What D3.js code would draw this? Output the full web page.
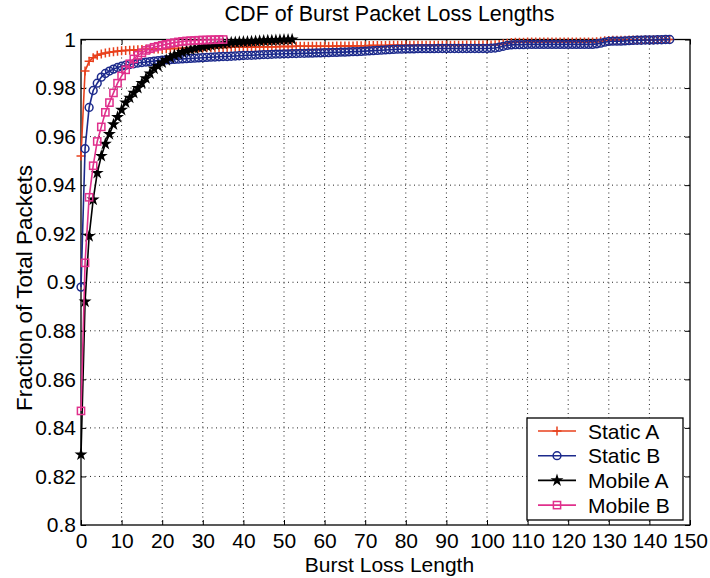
<!DOCTYPE html>
<html>
<head>
<meta charset="utf-8">
<script src="https://cdn.jsdelivr.net/npm/d3@7"></script>
<style>
  body { margin: 0; background: #fff; }
  svg { font-family: "Liberation Sans", Arial, Helvetica, sans-serif; }
</style>
</head>
<body>
<svg id="chart"></svg>
<script>
// CDF values, index = burst loss length (0, 1, 2, ...)
const staticA = [
  0.952, 0.987, 0.991, 0.9925, 0.9935, 0.994, 0.9944, 0.9947, 0.995, 0.9952,
  0.9954, 0.9955, 0.9956, 0.9957, 0.9958, 0.9959, 0.996, 0.996, 0.9961, 0.9961,
  0.9962, 0.9962, 0.9963, 0.9963, 0.9963, 0.9964, 0.9964, 0.9964, 0.9965, 0.9965,
  0.9965, 0.9966, 0.9966, 0.9966, 0.9967, 0.9967, 0.9967, 0.9968, 0.9968, 0.9968,
  0.9968, 0.9968, 0.9969, 0.9969, 0.9969, 0.997, 0.997, 0.997, 0.997, 0.9971,
  0.9971, 0.9971, 0.9971, 0.9972, 0.9972, 0.9972, 0.9972, 0.9972, 0.9972, 0.9972,
  0.9972, 0.9972, 0.9972, 0.9973, 0.9973, 0.9973, 0.9973, 0.9973, 0.9974, 0.9974,
  0.9974, 0.9975, 0.9975, 0.9975, 0.9975, 0.9975, 0.9976, 0.9976, 0.9976, 0.9976,
  0.9976, 0.9976, 0.9976, 0.9976, 0.9976, 0.9976, 0.9976, 0.9976, 0.9976, 0.9976,
  0.9976, 0.9976, 0.9976, 0.9976, 0.9976, 0.9977, 0.9977, 0.9977, 0.9977, 0.9977,
  0.9977, 0.9977, 0.9978, 0.9979, 0.9982, 0.9985, 0.9988, 0.9989, 0.9989, 0.9989,
  0.999, 0.999, 0.999, 0.999, 0.999, 0.999, 0.999, 0.999, 0.999, 0.999,
  0.999, 0.999, 0.999, 0.999, 0.999, 0.999, 0.999, 0.9991, 0.9993, 0.9995,
  0.9996, 0.9997, 0.9997, 0.9997, 0.9997, 0.9998, 0.9998, 0.9998, 0.9998, 0.9999,
  0.9999, 0.9999, 0.9999, 1, 1, 1
];
const staticB = [
  0.898, 0.955, 0.972, 0.979, 0.982, 0.9845, 0.986, 0.987, 0.9878, 0.9885,
  0.989, 0.9894, 0.9897, 0.99, 0.9903, 0.9905, 0.9907, 0.9909, 0.9911, 0.9913,
  0.9915, 0.9916, 0.9917, 0.9918, 0.9919, 0.992, 0.9921, 0.9922, 0.9923, 0.9924,
  0.9925, 0.9926, 0.9927, 0.9928, 0.9929, 0.993, 0.993, 0.9931, 0.9932, 0.9933,
  0.9934, 0.9935, 0.9935, 0.9936, 0.9937, 0.9938, 0.9938, 0.9939, 0.994, 0.994,
  0.9941, 0.9941, 0.9942, 0.9942, 0.9943, 0.9943, 0.9944, 0.9944, 0.9945, 0.9945,
  0.9946, 0.9946, 0.9947, 0.9947, 0.9948, 0.9948, 0.9949, 0.995, 0.995, 0.9951,
  0.9952, 0.9953, 0.9954, 0.9955, 0.9956, 0.9957, 0.9958, 0.9959, 0.996, 0.996,
  0.9961, 0.9961, 0.9961, 0.9962, 0.9962, 0.9962, 0.9962, 0.9962, 0.9963, 0.9963,
  0.9963, 0.9963, 0.9963, 0.9963, 0.9963, 0.9963, 0.9963, 0.9963, 0.9963, 0.9963,
  0.9963, 0.9964, 0.9965, 0.9968, 0.9972, 0.9976, 0.9978, 0.9979, 0.9979, 0.9979,
  0.998, 0.998, 0.998, 0.998, 0.998, 0.998, 0.998, 0.998, 0.998, 0.998,
  0.998, 0.998, 0.998, 0.998, 0.998, 0.998, 0.998, 0.9982, 0.9985, 0.9989,
  0.9992, 0.9993, 0.9993, 0.9993, 0.9994, 0.9995, 0.9996, 0.9997, 0.9997, 0.9998,
  0.9998, 0.9998, 0.9999, 0.9999, 1, 1
];
const mobileA = [
  0.829, 0.892, 0.919, 0.934, 0.945, 0.952, 0.957, 0.961, 0.965, 0.968,
  0.971, 0.974, 0.976, 0.978, 0.980, 0.982, 0.984, 0.986, 0.988, 0.989,
  0.9905, 0.9915, 0.9925, 0.9935, 0.994, 0.9948, 0.9953, 0.9958, 0.9962, 0.9966,
  0.997, 0.9973, 0.9976, 0.9979, 0.9981, 0.9983, 0.9985, 0.9987, 0.9988, 0.9989,
  0.999, 0.9991, 0.9992, 0.9993, 0.9994, 0.9995, 0.9996, 0.9996, 0.9997, 0.9998,
  0.9999, 0.9999, 1
];
const mobileB = [
  0.847, 0.908, 0.935, 0.948, 0.958, 0.964, 0.970, 0.974, 0.978, 0.982,
  0.985, 0.9875, 0.990, 0.992, 0.9935, 0.9945, 0.9955, 0.9962, 0.9968, 0.9972,
  0.9976, 0.998, 0.9984, 0.9987, 0.999, 0.9992, 0.9994, 0.9995, 0.9996, 0.9997,
  0.9998, 0.9998, 0.9999, 0.9999, 1, 1
];

const seriesNames = ["Static A", "Static B", "Mobile A", "Mobile B"];
const seriesColors = ["#e8401c", "#1c2a8c", "#000000", "#e0308c"];
const seriesMarkers = ["plus", "circle", "star", "square"];
const xTicks = [0, 10, 20, 30, 40, 50, 60, 70, 80, 90, 100, 110, 120, 130, 140, 150];
const yTicks = [0.8, 0.82, 0.84, 0.86, 0.88, 0.9, 0.92, 0.94, 0.96, 0.98, 1];

const width = 710, height = 578;
const mLeft = 81, mRight = 690, mTop = 39.5, mBottom = 525;

const svg = d3.select("#chart").attr("width", width).attr("height", height);

const x = d3.scaleLinear().domain([0, 150]).range([mLeft, mRight]);
const y = d3.scaleLinear().domain([0.8, 1]).range([mBottom, mTop]);

// dotted grid
const grid = svg.append("g");
grid.selectAll(".gx").data(xTicks.slice(1, -1)).join("line")
  .attr("class", "gx")
  .attr("x1", d => x(d)).attr("x2", d => x(d))
  .attr("y1", mTop).attr("y2", mBottom);
grid.selectAll(".gy").data(yTicks.slice(1, -1)).join("line")
  .attr("class", "gy")
  .attr("x1", mLeft).attr("x2", mRight)
  .attr("y1", d => y(d)).attr("y2", d => y(d));
grid.selectAll("line")
  .attr("stroke", "#222")
  .attr("stroke-width", 1)
  .attr("stroke-dasharray", "1,3.5");

// axes (ticks pointing inward)
const fmt = d => String(+d.toFixed(2));
svg.append("g").attr("transform", `translate(0,${mBottom})`)
  .call(d3.axisBottom(x).tickValues(xTicks).tickSize(-5).tickPadding(8))
  .call(g => g.select(".domain").remove());
svg.append("g").attr("transform", `translate(0,${mTop})`)
  .call(d3.axisTop(x).tickValues(xTicks).tickSize(-5).tickFormat(""))
  .call(g => g.select(".domain").remove());
svg.append("g").attr("transform", `translate(${mLeft},0)`)
  .call(d3.axisLeft(y).tickValues(yTicks).tickSize(-5).tickPadding(5).tickFormat(fmt))
  .call(g => g.select(".domain").remove());
svg.append("g").attr("transform", `translate(${mRight},0)`)
  .call(d3.axisRight(y).tickValues(yTicks).tickSize(-5).tickFormat(""))
  .call(g => g.select(".domain").remove());
svg.selectAll(".tick line").attr("stroke", "#000");
svg.selectAll(".tick text").attr("fill", "#000").style("font-size", "21px")
  .style("font-family", "\"Liberation Sans\", Arial, sans-serif");

svg.append("rect")
  .attr("x", mLeft).attr("y", mTop)
  .attr("width", mRight - mLeft).attr("height", mBottom - mTop)
  .attr("fill", "none").attr("stroke", "#000").attr("stroke-width", 1.3);

// markers
function drawMarker(g, type, color) {
  if (type === "plus") {
    g.append("path").attr("d", "M-4.5,0H4.5M0,-4.5V4.5")
      .attr("stroke", color).attr("stroke-width", 1.5).attr("fill", "none");
  } else if (type === "circle") {
    g.append("circle").attr("r", 3.9)
      .attr("stroke", color).attr("stroke-width", 1.5).attr("fill", "none");
  } else if (type === "star") {
    g.append("path").attr("d", d3.symbol(d3.symbolStar, 52)())
      .attr("fill", color);
  } else {
    g.append("rect").attr("x", -3.6).attr("y", -3.6).attr("width", 7.2).attr("height", 7.2)
      .attr("stroke", color).attr("stroke-width", 1.5).attr("fill", "none");
  }
}

const allSeries = [staticA, staticB, mobileA, mobileB];
const line = d3.line().x((d, i) => x(i)).y(d => y(d));

allSeries.forEach((vals, k) => {
  const g = svg.append("g");
  g.append("path").attr("d", line(vals))
    .attr("fill", "none").attr("stroke", seriesColors[k]).attr("stroke-width", 1.6);
  g.selectAll("g.m").data(vals).join("g")
    .attr("class", "m")
    .attr("transform", (d, i) => `translate(${x(i)},${y(d)})`)
    .each(function () { drawMarker(d3.select(this), seriesMarkers[k], seriesColors[k]); });
});

// legend
const lg = svg.append("g");
lg.append("rect").attr("x", 527).attr("y", 418).attr("width", 156).attr("height", 102)
  .attr("fill", "#fff").attr("stroke", "#000").attr("stroke-width", 1.3);
seriesNames.forEach((name, k) => {
  const ly = 431 + k * 24.7;
  lg.append("line").attr("x1", 538).attr("x2", 576).attr("y1", ly).attr("y2", ly)
    .attr("stroke", seriesColors[k]).attr("stroke-width", 1.6);
  const mg = lg.append("g").attr("transform", `translate(557,${ly})`);
  drawMarker(mg, seriesMarkers[k], seriesColors[k]);
  lg.append("text").attr("x", 588).attr("y", ly).attr("dy", "0.36em")
    .style("font-size", "21px").text(name);
});

// titles
svg.append("text").attr("x", (mLeft + mRight) / 2 + 4).attr("y", 21)
  .attr("text-anchor", "middle").style("font-size", "21.5px")
  .text("CDF of Burst Packet Loss Lengths");
svg.append("text").attr("x", (mLeft + mRight) / 2 + 4).attr("y", 572)
  .attr("text-anchor", "middle").style("font-size", "21px")
  .text("Burst Loss Length");
svg.append("text")
  .attr("transform", `translate(32,288) rotate(-90)`)
  .attr("text-anchor", "middle").style("font-size", "22.5px")
  .text("Fraction of Total Packets");
</script>
</body>
</html>
